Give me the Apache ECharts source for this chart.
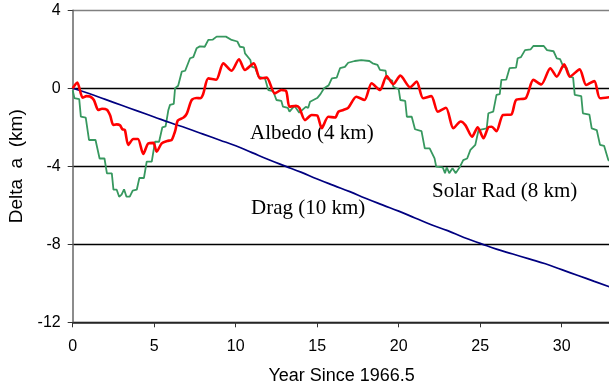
<!DOCTYPE html>
<html>
<head>
<meta charset="utf-8">
<script src="https://cdn.jsdelivr.net/npm/echarts@6/dist/echarts.min.js"></script>
<style>html,body{margin:0;padding:0;background:#fff}#c{width:609px;height:385px}</style>
</head>
<body>
<div id="c"></div>
<script>
// ---- data (years since 1966.5, delta a in km) ----
const xTicks = [0, 5, 10, 15, 20, 25, 30];
const yTicks = [-12, -8, -4, 0, 4];

const dragX = [0,1,2,3,4,5,6,7,8,9,10,11,12,13,14,15,16,17,18,19,20,21,22,23,24,25,26,27,28,29,30,31,32,33];
const dragY = [0,-0.27,-0.57,-0.87,-1.17,-1.47,-1.77,-2.05,-2.35,-2.65,-2.95,-3.3,-3.65,-3.98,-4.3,-4.65,-4.98,-5.3,-5.65,-5.98,-6.3,-6.65,-7.0,-7.3,-7.65,-7.95,-8.25,-8.5,-8.75,-9.0,-9.3,-9.6,-9.9,-10.2];

const solarX = [0,0.1,0.4,0.5,0.8,1.0,1.4,1.65,1.95,2.1,2.4,2.5,2.7,2.85,3.0,3.15,3.3,3.5,3.68,3.93,4.09,4.37,4.54,4.85,5.05,5.3,5.5,5.7,5.87,5.97,6.2,6.28,6.47,6.69,6.9,7.2,7.4,7.6,7.8,8.1,8.32,8.6,8.83,9.4,9.75,10.1,10.26,10.5,10.57,10.9,10.98,11.2,11.4,11.8,12.0,12.3,12.5,12.8,12.9,13.2,13.3,13.6,13.9,14.3,14.45,14.56,15.0,15.2,15.42,15.7,15.9,16.2,16.4,16.7,16.9,17.3,17.7,18.2,18.4,18.7,18.85,19.2,19.26,19.6,19.67,20.0,20.1,20.4,20.5,20.8,21.0,21.4,21.6,21.9,22.2,22.3,22.7,22.84,22.95,23.1,23.3,23.5,23.76,23.96,24.2,24.4,24.7,24.9,25.4,25.5,25.8,26.0,26.2,26.3,26.6,26.8,27.2,27.3,27.5,27.75,28.1,28.26,28.9,29.1,29.5,29.7,29.9,30.1,30.3,30.5,30.7,30.8,31.2,31.3,31.7,31.84,32.15,32.35,32.6,32.86,33];
const solarY = [-0.1,-0.5,-0.55,-1.45,-1.5,-2.65,-2.65,-3.6,-3.6,-4.36,-4.36,-5.2,-5.2,-5.56,-5.45,-5.18,-5.56,-5.56,-5.25,-5.2,-4.6,-4.6,-3.76,-3.76,-2.74,-2.74,-2.0,-1.95,-1.11,-0.85,-0.8,0,0.13,0.85,0.9,1.54,1.6,2.05,2.15,2.13,2.48,2.5,2.65,2.65,2.48,2.4,2.13,2.1,1.79,1.45,1.11,1.05,0.6,0.5,-0.09,-0.15,-0.6,-0.65,-0.94,-1.0,-1.2,-0.9,-1.25,-0.95,-1.0,-0.69,-0.5,-0.3,0,0.15,0.51,0.55,1.03,1.1,1.31,1.4,1.45,1.4,1.28,1.2,0.94,0.9,0.51,0.4,0.08,-0.05,-0.6,-0.65,-1.46,-1.46,-2.1,-2.2,-3.08,-3.08,-3.59,-4.02,-4.05,-4.35,-4.05,-4.35,-4.1,-4.35,-4.02,-3.68,-3.6,-3.16,-2.9,-2.14,-2.05,-1.28,-1.2,-0.34,-0.3,0.43,0.45,1.03,1.06,1.54,1.6,1.96,2.0,2.17,2.17,1.96,1.9,1.54,1.5,1.11,1.05,0.6,0.55,-0.34,-0.4,-1.28,-1.35,-2.05,-2.14,-2.9,-2.95,-3.68,-3.75];

const albedoX = [0,0.28,0.61,0.85,1.06,1.3,1.57,1.8,2.1,2.3,2.49,2.7,2.9,3.05,3.2,3.41,3.72,4.0,4.33,4.64,4.95,5.15,5.46,5.8,6.07,6.2,6.3,6.45,6.8,7.0,7.3,7.6,7.82,8.0,8.32,8.8,9.24,9.75,10.2,10.57,11.1,11.5,11.9,12.4,12.8,13.1,13.3,13.7,13.9,14.25,14.66,15.0,15.28,15.68,16.1,16.3,16.6,16.9,17.4,17.9,18.34,18.85,19.26,19.67,20.1,20.7,21.1,21.5,22.0,22.4,22.9,23.35,23.8,24.1,24.5,24.85,25.2,25.5,25.7,26.0,26.4,26.9,27.2,27.8,28.26,28.75,29.3,29.7,30.15,30.5,31.1,31.5,32.0,32.35,33];
const albedoY = [0,0.29,-0.48,-0.4,-0.42,-0.6,-1.11,-1.05,-1.1,-1.4,-1.88,-1.85,-1.9,-2.1,-2.14,-2.9,-2.6,-2.6,-3.37,-2.82,-2.8,-3.25,-2.82,-2.7,-2.65,-2.4,-2.14,-1.65,-1.5,-1.3,-0.6,-0.5,-0.51,-0.3,0.51,0.44,1.28,0.9,1.49,0.94,1.28,0.51,0.55,-0.26,-0.09,-0.15,-0.94,-0.9,-1.0,-1.63,-1.37,-1.4,-2.05,-1.46,-1.5,-1.2,-1.11,-1.0,-0.43,-0.6,0.26,-0.09,0.63,0.21,0.65,0.05,0.34,-0.51,-0.4,-1.2,-1.0,-2.05,-1.7,-1.9,-2.48,-2.0,-2.56,-2.0,-1.97,-2.2,-1.37,-1.35,-0.6,-0.5,0.43,0.2,1.03,0.6,1.23,0.6,0.97,0.17,0.37,-0.51,-0.45];

const labels = ['Albedo (4 km)', 'Drag (10 km)', 'Solar Rad (8 km)'];

function pairs(xs, ys){ return xs.map((x,i)=>[x, ys[i]]); }

const chart = echarts.init(document.getElementById('c'), null, {renderer:'canvas'});
const sans = 'Liberation Sans, Arial, sans-serif';
const serif = 'Liberation Serif, Times New Roman, serif';
chart.setOption({
  animation:false,
  backgroundColor:'#fff',
  grid:{left:72.7, top:10.3, width:537.9, height:312, containLabel:false, outerBoundsMode:'none'},
  xAxis:{
    type:'value', min:0, max:33, interval:5,
    name:'Year Since 1966.5', nameLocation:'middle', nameGap:45,
    nameTextStyle:{fontFamily:sans, fontSize:18, color:'#000'},
    axisLine:{show:true, onZero:false, lineStyle:{color:'#333', width:1.5}},
    axisTick:{show:true, length:5, lineStyle:{color:'#333'}},
    axisLabel:{fontFamily:sans, fontSize:16, color:'#000', margin:16,
      formatter:v=> xTicks.indexOf(v)>=0 ? String(v) : ''},
    splitLine:{show:false}
  },
  yAxis:{
    type:'value', min:-12, max:4, interval:4,
    name:'Delta  a  (km)', nameLocation:'middle', nameGap:37, nameRotate:90,
    nameTextStyle:{fontFamily:sans, fontSize:19, color:'#000'},
    axisLine:{show:true, onZero:false, lineStyle:{color:'#666', width:1.5}},
    axisTick:{show:true, length:5, lineStyle:{color:'#333'}},
    axisLabel:{fontFamily:sans, fontSize:16, color:'#000', margin:12,
      formatter:v=> yTicks.indexOf(v)>=0 ? String(v) : ''},
    splitLine:{show:true, lineStyle:{color:['#000','#000','#000','#000','#808080'], width:1.3}}
  },
  series:[
    {name:'Solar Rad', type:'line', data:pairs(solarX, solarY), showSymbol:false, smooth:false,
     lineStyle:{color:'#37985f', width:1.8}, z:2},
    {name:'Drag', type:'line', data:pairs(dragX, dragY), showSymbol:false, smooth:true,
     lineStyle:{color:'#000080', width:1.7}, z:3},
    {name:'Albedo', type:'line', data:pairs(albedoX, albedoY), showSymbol:false, smooth:0.25,
     lineStyle:{color:'#ff0000', width:2.6, join:'round'}, z:4}
  ],
  graphic:[
    {type:'text', left:250, top:123, style:{text:labels[0], font:'21px '+serif, fill:'#000'}},
    {type:'text', left:251, top:198, style:{text:labels[1], font:'21px '+serif, fill:'#000'}},
    {type:'text', left:432, top:181, style:{text:labels[2], font:'21px '+serif, fill:'#000'}}
  ]
});
</script>
</body>
</html>
